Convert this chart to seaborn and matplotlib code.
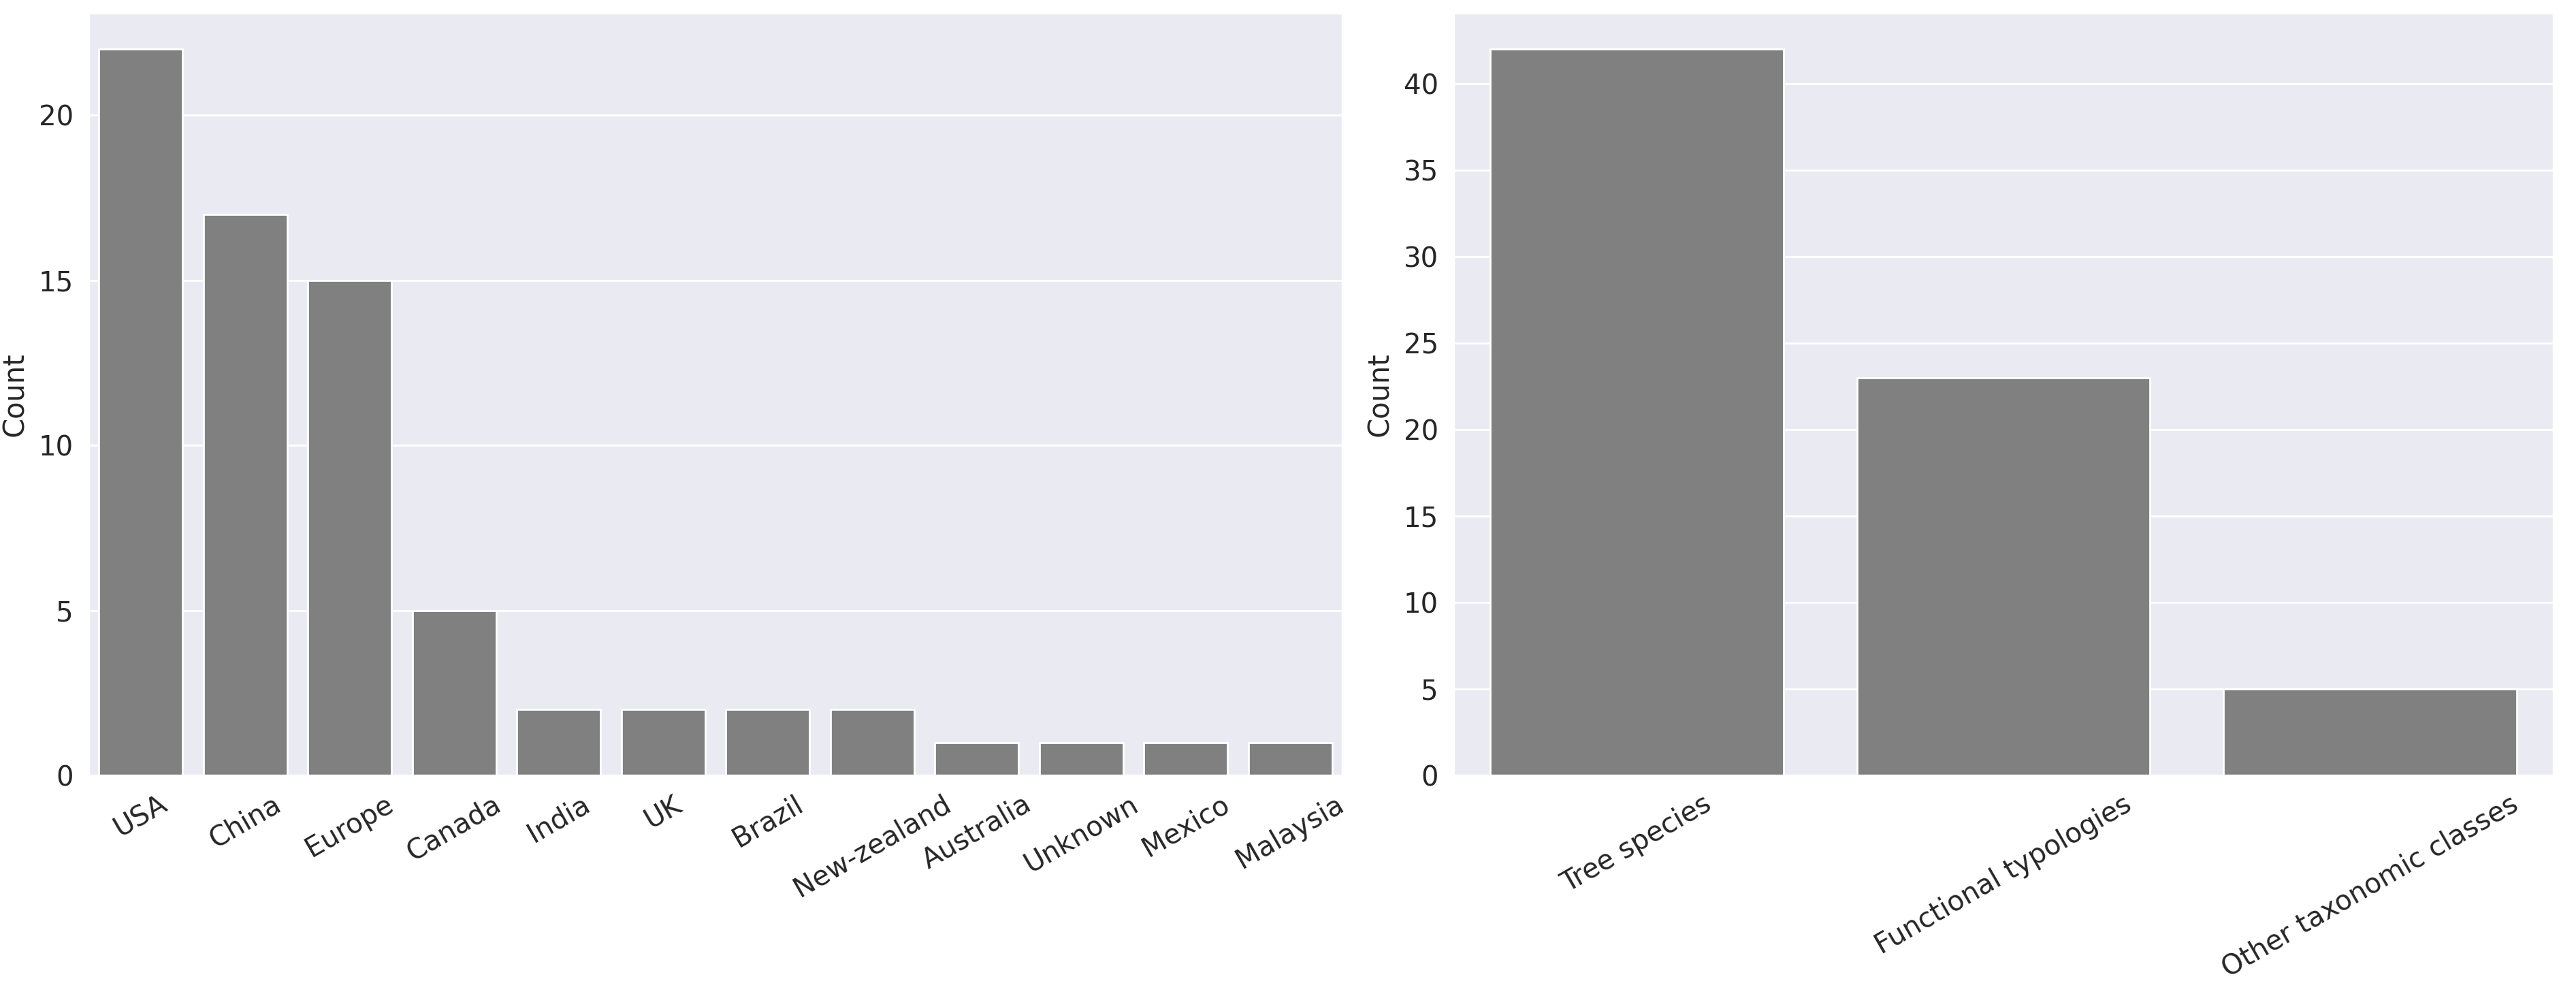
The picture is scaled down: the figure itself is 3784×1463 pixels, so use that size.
import matplotlib
matplotlib.use("Agg")
import matplotlib.pyplot as plt
import seaborn as sns
import pandas as pd

countries = ["USA", "China", "Europe", "Canada", "India", "UK", "Brazil",
             "New-zealand", "Australia", "Unknown", "Mexico", "Malaysia"]
country_counts = [22, 17, 15, 5, 2, 2, 2, 2, 1, 1, 1, 1]

classes = ["Tree species", "Functional typologies", "Other taxonomic classes"]
class_counts = [42, 23, 5]

sns.set_theme(style="darkgrid")
plt.rcParams['font.family'] = ['DejaVu Sans']

W, H = 3784, 1463
fig = plt.figure(figsize=(W / 200, H / 200), dpi=200)
bottom = 1 - 1139 / H
height = (1139 - 19) / H
ax1 = fig.add_axes([130 / W, bottom, (1972 - 130) / W, height])
ax2 = fig.add_axes([2135 / W, bottom, (3751 - 2135) / W, height])

df1 = pd.DataFrame({"Country": countries, "Count": country_counts})
df2 = pd.DataFrame({"Class": classes, "Count": class_counts})

sns.barplot(data=df1, x="Country", y="Count", color="gray", saturation=1, ax=ax1)
sns.barplot(data=df2, x="Class", y="Count", color="gray", saturation=1, ax=ax2)

for ax in (ax1, ax2):
    ax.set_xlabel("")
    ax.set_ylabel("Count", fontsize=15, labelpad=5)
    ax.tick_params(axis="both", labelsize=14.5, length=0, pad=8)
    for lab in ax.get_xticklabels():
        lab.set_rotation(30)
        lab.set_ha("center")

ax2.set_yticks([0, 5, 10, 15, 20, 25, 30, 35, 40])

fig.savefig("out.png", dpi=200)
